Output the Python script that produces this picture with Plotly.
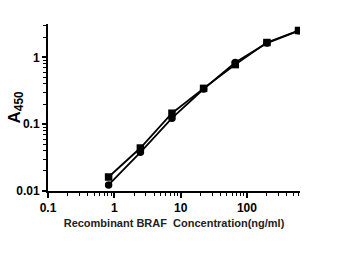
import plotly.graph_objects as go

conc = [0.82, 2.47, 7.4, 22.2, 66.7, 200, 600]
series_square = [0.0162, 0.044, 0.146, 0.344, 0.78, 1.67, 2.53]
series_circle = [0.0123, 0.038, 0.123, 0.336, 0.84, 1.64, 2.5]

fig = go.Figure()
fig.add_trace(go.Scatter(x=conc, y=series_circle, mode="lines+markers",
                         line=dict(color="black", width=1.8),
                         marker=dict(symbol="circle", size=7.5, color="black")))
fig.add_trace(go.Scatter(x=conc, y=series_square, mode="lines+markers",
                         line=dict(color="black", width=1.8),
                         marker=dict(symbol="square", size=7.5, color="black")))

axis_font = dict(family="Liberation Sans, Arial", size=12, color="black")
fig.update_layout(
    width=348, height=256,
    margin=dict(l=48, r=48, t=24, b=65),
    paper_bgcolor="white", plot_bgcolor="white",
    showlegend=False,
    xaxis=dict(type="log", range=[-1, 2.8], showgrid=False, zeroline=False, automargin=False,
               showline=True, linecolor="black", linewidth=2,
               ticks="outside", ticklen=5, tickwidth=1.5, tickcolor="black",
               tickvals=[0.1, 1, 10, 100], ticktext=["<b>0.1</b>", "<b>1</b>", "<b>10</b>", "<b>100</b>"],
               tickfont=axis_font,
               minor=dict(ticks="outside", ticklen=3, tickcolor="black", tickwidth=1,
                          tickvals=[v * m for m in [0.1, 1, 10, 100] for v in range(2, 10) if v * m < 630]),
               title=dict(text="<b>Recombinant BRAF  Concentration(ng/ml)</b>",
                          font=dict(family="Liberation Sans, Arial", size=11, color="#222"),
                          standoff=5)),
    yaxis=dict(type="log", range=[-2, 0.5], showgrid=False, zeroline=False, automargin=False,
               showline=True, linecolor="black", linewidth=2,
               ticks="outside", ticklen=4, tickwidth=1.5, tickcolor="black",
               tickvals=[0.01, 0.1, 1], ticktext=["<b>0.01</b>", "<b>0.1</b>", "<b>1</b>"],
               tickfont=axis_font,
               minor=dict(ticks="outside", ticklen=3, tickcolor="black", tickwidth=1,
                          tickvals=[v * m for m in [0.01, 0.1, 1] for v in range(2, 10) if v * m < 3.2])),
    annotations=[dict(text="<b>A<sub>450</sub></b>", textangle=-90,
                      xref="paper", yref="paper", x=0, y=0.5,
                      xanchor="center", yanchor="middle", xshift=-33, showarrow=False,
                      font=dict(family="Liberation Sans, Arial", size=17, color="black"))],
)

fig.write_html("out.html")
